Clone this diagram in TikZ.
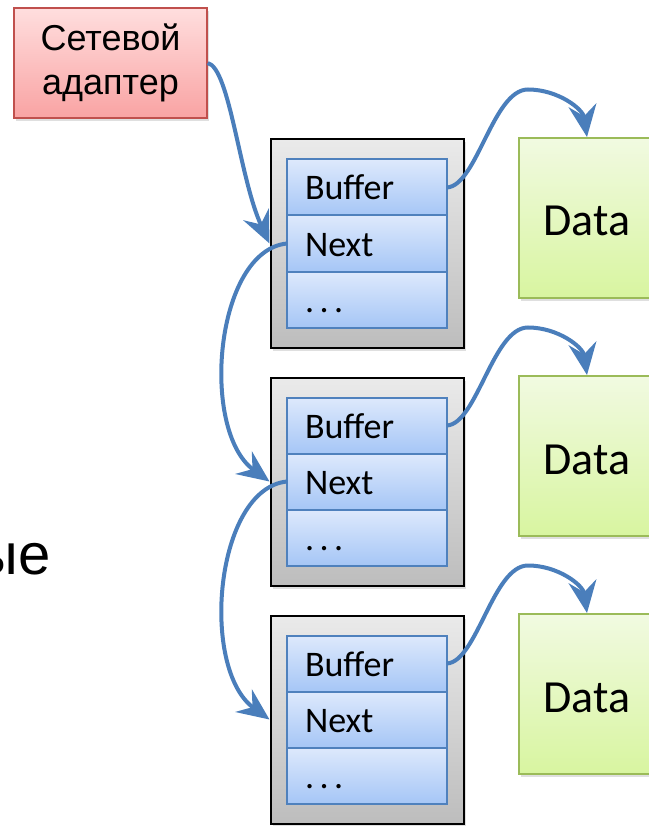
\documentclass[tikz,border=0pt]{standalone}
\usepackage{fontspec}
\setmainfont{Liberation Sans}
\newfontfamily\calibrifont{Carlito}
\usepackage{tikz}
\usetikzlibrary{arrows.meta,positioning,calc,shadows}
\usepackage{xcolor}
\definecolor{LinkBlue}{HTML}{4A7EBB}
\definecolor{AdapterEdge}{HTML}{C0504D}
\definecolor{AdapterTop}{HTML}{FFDEDE}
\definecolor{AdapterBottom}{HTML}{F9A3A3}
\definecolor{FrameTop}{HTML}{EAEAEA}
\definecolor{FrameBottom}{HTML}{BDBDBD}
\definecolor{FieldEdge}{HTML}{4F81BD}
\definecolor{FieldTop}{HTML}{DDE9FC}
\definecolor{FieldBottom}{HTML}{A6C6F6}
\definecolor{DataEdge}{HTML}{9BBB59}
\definecolor{DataTop}{HTML}{F1FAE1}
\definecolor{DataBottom}{HTML}{D8F5A0}

\tikzset{
  softshadow/.style={drop shadow={opacity=.25,shadow xshift=2pt,shadow yshift=-3pt}},
  adapterbox/.style={draw=AdapterEdge,line width=1.5pt,top color=AdapterTop,bottom color=AdapterBottom,
    minimum width=193pt,minimum height=110pt,align=center,font=\fontsize{36}{43.5}\selectfont,softshadow},
  framebox/.style={draw=black,line width=2pt,top color=FrameTop,bottom color=FrameBottom,
    minimum width=193pt,minimum height=208pt,softshadow},
  fieldbox/.style={draw=FieldEdge,line width=2pt,top color=FieldTop,bottom color=FieldBottom,outer sep=0pt,
    minimum width=160pt,minimum height=56pt,text width=124pt,inner xsep=18pt,inner ysep=0pt,align=left,
    text height=30pt,text depth=5pt,font=\calibrifont\fontsize{36}{42}\selectfont},
  databox/.style={draw=DataEdge,line width=2pt,top color=DataTop,bottom color=DataBottom,
    minimum width=136pt,minimum height=160pt,text height=40pt,text depth=4pt,
    font=\calibrifont\fontsize{46}{54}\selectfont,softshadow},
  link/.style={draw=LinkBlue,line width=4pt,-{Stealth[length=32pt,width=28pt,inset=11pt]}},
}

\begin{document}
\begin{tikzpicture}[x=1pt,y=-1pt]
\useasboundingbox (0,0) rectangle (648,826);

\node[adapterbox] (adapter) at (110.5,63) {\raisebox{-4pt}{Сетевой}\\\raisebox{-4pt}{адаптер}};
\node[font=\fontsize{58}{70}\selectfont,anchor=base east] (tail) at (54,574) {ые};

% one record per row: frame, fields, data block
\foreach \i/\y in {1/243.5,2/481.5,3/719.5}{
  \node[framebox] (frame\i) at (367,\y) {};
  \node[fieldbox] (next\i) at (367,\y) {Next};
  \node[fieldbox,above=0pt of next\i] (buf\i) {Buffer};
  \node[fieldbox,below=0pt of next\i] (etc\i) {.\hspace{5.5pt}.\hspace{5.5pt}.};
  \node[databox] (data\i) at (587,\y-25.5) {Data};
  \draw[link] (buf\i.east) .. controls +(30,-2) and +(-35,0) .. ($(buf\i.east)+(81,-98)$)
    .. controls +(30,0) and +(-4,-28) .. (data\i.north);
}

\draw[link] (adapter.east) .. controls +(22,5) and +(-30,-65) .. (frame1.west |- next1.center);
\foreach \i/\j in {1/2,2/3}
  \draw[link] (next\i.west) .. controls +(-72,7) and +(-70,-51) .. (frame\j.west |- next\j.center);
\end{tikzpicture}
\end{document}
